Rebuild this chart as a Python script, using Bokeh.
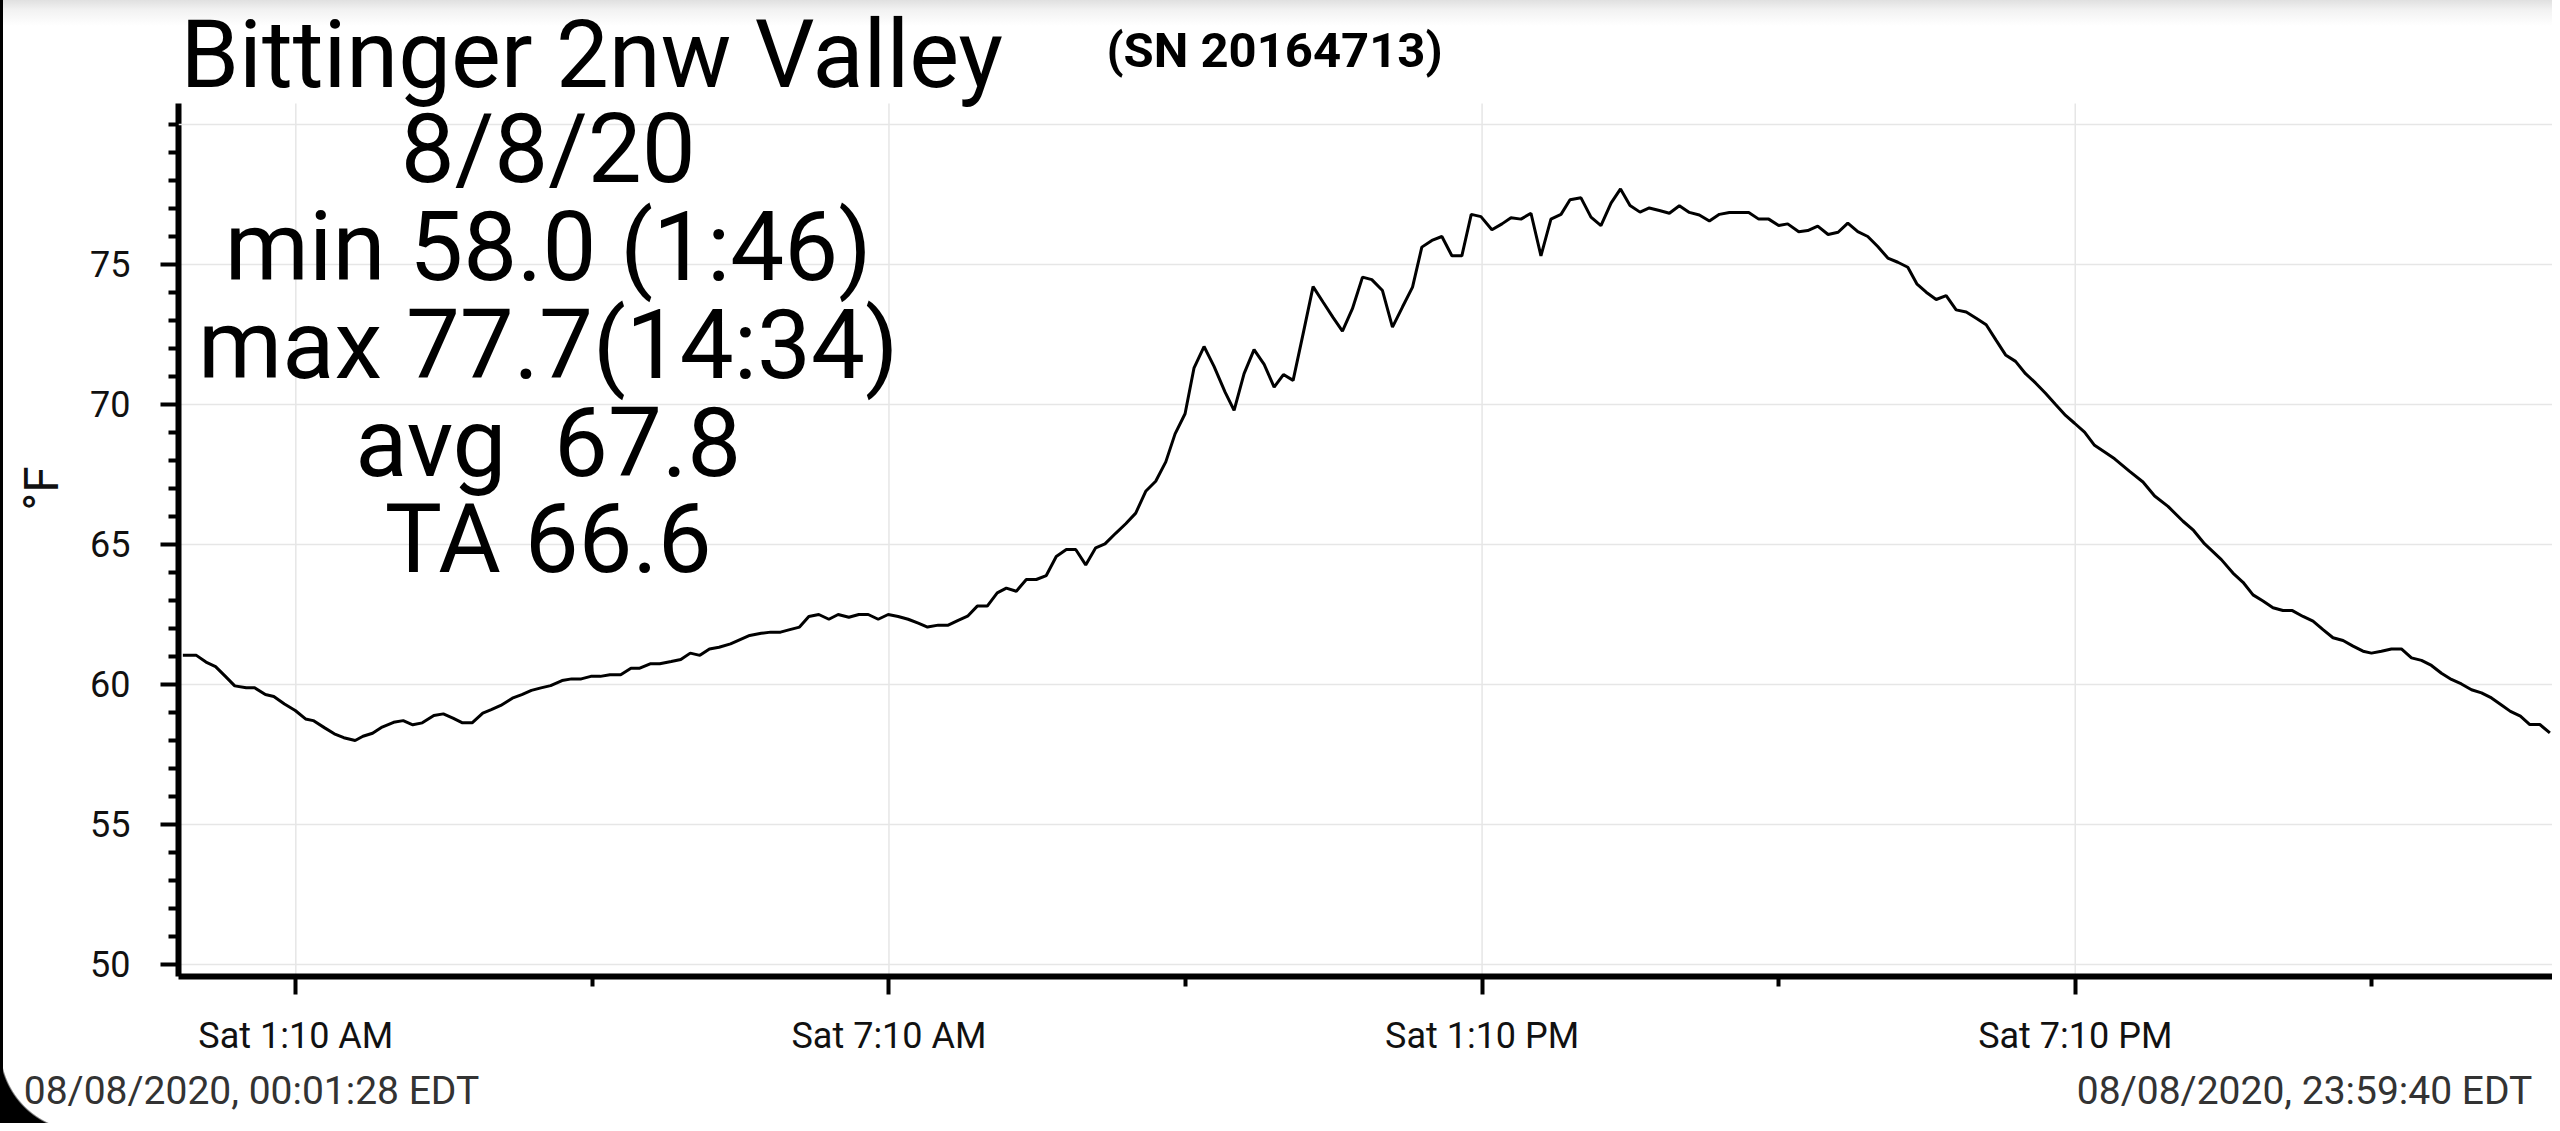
from bokeh.plotting import figure
from bokeh.models import FixedTicker, Label, Span, Range1d, LinearAxis
from bokeh.embed import file_html
from bokeh.resources import INLINE

# ---- data (hours after midnight, temperature °F) ----
hours = [0.024, 0.161, 0.258, 0.355, 0.452, 0.549, 0.665, 0.750, 0.859, 0.944,
         1.052, 1.161, 1.265, 1.343, 1.459, 1.556, 1.652, 1.767, 1.846, 1.943,
         2.040, 2.156, 2.253, 2.350, 2.446, 2.563, 2.659, 2.756, 2.853, 2.950,
         3.058, 3.144, 3.240, 3.357, 3.453, 3.550, 3.647, 3.744, 3.860, 3.957,
         4.054, 4.151, 4.247, 4.344, 4.453, 4.557, 4.646, 4.751, 4.848, 4.964,
         5.061, 5.157, 5.254, 5.351, 5.448, 5.564, 5.661, 5.758, 5.874, 5.970,
         6.070, 6.154, 6.262, 6.356, 6.457, 6.559, 6.653, 6.761, 6.862, 6.957,
         7.058, 7.159, 7.260, 7.361, 7.463, 7.557, 7.665, 7.766, 7.867, 7.962,
         8.060, 8.161, 8.262, 8.354, 8.455, 8.556, 8.657, 8.758, 8.859, 8.961,
         9.056, 9.157, 9.258, 9.352, 9.460, 9.562, 9.663, 9.764, 9.865, 9.967,
         10.061, 10.162, 10.253, 10.354, 10.455, 10.567, 10.658, 10.759, 10.860, 10.962,
         11.063, 11.157, 11.255, 11.356, 11.457, 11.559, 11.660, 11.754, 11.855, 11.957,
         12.051, 12.159, 12.260, 12.361, 12.463, 12.557, 12.659, 12.760, 12.861, 12.962,
         13.057, 13.155, 13.266, 13.368, 13.459, 13.560, 13.661, 13.762, 13.863, 13.965,
         14.056, 14.167, 14.268, 14.369, 14.471, 14.567, 14.663, 14.764, 14.858, 14.960,
         15.061, 15.162, 15.263, 15.364, 15.466, 15.567, 15.668, 15.769, 15.864, 15.965,
         16.066, 16.167, 16.258, 16.370, 16.461, 16.562, 16.667, 16.768, 16.866, 16.967,
         17.068, 17.169, 17.271, 17.372, 17.473, 17.564, 17.659, 17.760, 17.861, 17.962,
         18.064, 18.165, 18.266, 18.367, 18.462, 18.563, 18.664, 18.765, 18.866, 18.968,
         19.069, 19.160, 19.261, 19.362, 19.464, 19.565, 19.717, 19.852, 19.970, 20.105,
         20.257, 20.364, 20.476, 20.645, 20.762, 20.864, 20.965, 21.066, 21.167, 21.268,
         21.363, 21.471, 21.572, 21.673, 21.774, 21.876, 21.977, 22.078, 22.163, 22.264,
         22.365, 22.466, 22.568, 22.669, 22.770, 22.871, 22.972, 23.073, 23.175, 23.276,
         23.377, 23.478, 23.569, 23.670, 23.765, 23.866, 23.968]

temps = [61.04, 61.04, 60.80, 60.64, 60.30, 59.95, 59.88, 59.88, 59.64, 59.57,
         59.30, 59.07, 58.77, 58.71, 58.45, 58.24, 58.10, 58.00, 58.15, 58.26,
         58.48, 58.65, 58.71, 58.56, 58.63, 58.89, 58.95, 58.80, 58.63, 58.63,
         58.98, 59.10, 59.25, 59.51, 59.64, 59.79, 59.88, 59.96, 60.14, 60.20,
         60.20, 60.29, 60.29, 60.35, 60.35, 60.58, 60.58, 60.74, 60.74, 60.82,
         60.89, 61.12, 61.04, 61.27, 61.33, 61.45, 61.60, 61.75, 61.83, 61.87,
         61.87, 61.95, 62.05, 62.43, 62.50, 62.33, 62.50, 62.40, 62.50, 62.50,
         62.33, 62.50, 62.43, 62.33, 62.19, 62.05, 62.12, 62.12, 62.29, 62.44,
         62.80, 62.80, 63.27, 63.44, 63.33, 63.75, 63.75, 63.89, 64.57, 64.82,
         64.82, 64.27, 64.88, 65.02, 65.40, 65.74, 66.12, 66.90, 67.26, 67.95,
         68.95, 69.67, 71.31, 72.07, 71.36, 70.44, 69.79, 71.10, 71.96, 71.43,
         70.62, 71.07, 70.86, 72.52, 74.21, 73.65, 73.10, 72.62, 73.42, 74.55,
         74.46, 74.07, 72.76, 73.48, 74.19, 75.62, 75.86, 76.00, 75.31, 75.31,
         76.79, 76.71, 76.24, 76.45, 76.67, 76.62, 76.83, 75.31, 76.62, 76.79,
         77.31, 77.38, 76.69, 76.39, 77.19, 77.70, 77.11, 76.87, 77.02, 76.93,
         76.83, 77.10, 76.86, 76.77, 76.55, 76.79, 76.86, 76.86, 76.86, 76.62,
         76.62, 76.39, 76.45, 76.17, 76.21, 76.37, 76.07, 76.15, 76.48, 76.17,
         76.00, 75.64, 75.23, 75.08, 74.90, 74.31, 74.01, 73.75, 73.89, 73.38,
         73.30, 73.08, 72.85, 72.29, 71.77, 71.54, 71.10, 70.77, 70.40, 70.00,
         69.61, 69.33, 69.01, 68.54, 68.30, 68.06, 67.61, 67.23, 66.73, 66.36,
         65.83, 65.50, 65.02, 64.46, 63.98, 63.65, 63.20, 62.98, 62.74, 62.64,
         62.64, 62.43, 62.26, 61.96, 61.67, 61.57, 61.37, 61.19, 61.12, 61.19,
         61.27, 61.27, 60.95, 60.86, 60.68, 60.40, 60.18, 60.02, 59.81, 59.70,
         59.52, 59.27, 59.04, 58.87, 58.57, 58.57, 58.27]

x_tick_minutes = [70, 430, 790, 1150]
x_tick_labels = ["Sat 1:10 AM", "Sat 7:10 AM", "Sat 1:10 PM", "Sat 7:10 PM"]
x_minor_minutes = [250, 610, 970, 1330]
y_ticks = [50, 55, 60, 65, 70, 75]
y_minor = [v for v in range(50, 81) if v % 5 != 0] + [80]
y_grid_top = 80

title_text = "Bittinger 2nw Valley"
serial_text = "(SN 20164713)"
stats_lines = ["8/8/20", "min 58.0 (1:46)", "max 77.7(14:34)", "avg \u00a067.8", "TA 66.6"]
stats_y = [79.12, 75.62, 72.12, 68.625, 65.18]
footer_texts = ["08/08/2020, 00:01:28 EDT", "08/08/2020, 23:59:40 EDT"]
footer_pos = [43.1, 1289.2]

FONT = "Roboto"
Y_LO, Y_AXIS_TOP, Y_HI = 49.571, 80.75, 84.428

x_min = [h * 60 for h in hours]

p = figure(frame_width=2374, frame_height=976, title=None,
           min_border_left=178, min_border_right=0,
           min_border_top=0, min_border_bottom=147,
           x_range=Range1d(-1.2, 1439.67), y_range=Range1d(Y_LO, Y_HI),
           output_backend="svg", toolbar_location=None)
p.outline_line_color = None
p.background_fill_color = None
p.border_fill_color = None
# screenshot frame: faint status-bar shade on top, dark bezel on the left edge and rounded corner
p.styles = {
    "background-color": "#ffffff",
    "background-image": ("linear-gradient(to right, #000000 0px, #000000 3px, rgba(0,0,0,0) 3px), "
                         "radial-gradient(circle at 100% 0%, rgba(0,0,0,0) 82px, #000000 84px), "
                         "linear-gradient(to bottom, #e0e0e0 0px, #f2f2f2 10px, #ffffff 26px)"),
    "background-size": "100% 100%, 83px 83px, 100% 100%",
    "background-position": "0px 0px, 0px 1048px, 0px 0px",
    "background-repeat": "no-repeat",
}

# grid
p.xgrid.visible = False
p.ygrid.grid_line_color = "#e6e6e6"
p.ygrid.grid_line_width = 1.5
p.add_layout(Span(location=y_grid_top, dimension="width", line_color="#e6e6e6", line_width=1.5))
p.segment(x0=x_tick_minutes, y0=[Y_LO] * len(x_tick_minutes),
          x1=x_tick_minutes, y1=[Y_AXIS_TOP] * len(x_tick_minutes),
          line_color="#e6e6e6", line_width=1.5)

# temperature line
p.line(x_min, temps, line_color="black", line_width=3)

# axes
xa = p.xaxis[0]
xa.ticker = FixedTicker(ticks=x_tick_minutes, minor_ticks=x_minor_minutes)
xa.major_label_overrides = {t: l for t, l in zip(x_tick_minutes, x_tick_labels)}
ya = p.yaxis[0]
ya.ticker = FixedTicker(ticks=y_ticks, minor_ticks=y_minor)
ya.bounds = (Y_LO, Y_AXIS_TOP)
ya.axis_label = "°F"

for ax in (xa, ya):
    ax.axis_line_width = 6
    ax.axis_line_color = "black"
    ax.major_tick_line_color = "black"
    ax.minor_tick_line_color = "black"
    ax.major_tick_line_width = 4
    ax.minor_tick_line_width = 4
    ax.major_tick_in = 0
    ax.minor_tick_in = 0
    ax.major_tick_out = 18
    ax.minor_tick_out = 10
    ax.major_label_text_font = FONT
    ax.major_label_text_font_size = "36px"
    ax.major_label_text_color = "#111111"
    ax.axis_label_text_font = FONT
    ax.axis_label_text_font_style = "normal"
    ax.axis_label_text_font_size = "48px"
    ax.axis_label_text_color = "#111111"
xa.major_label_standoff = 20
ya.major_label_standoff = 30
ya.axis_label_standoff = 17

# footer timestamps as an extra (invisible) axis below
fa = LinearAxis(ticker=FixedTicker(ticks=footer_pos, minor_ticks=[]))
fa.major_label_overrides = {t: l for t, l in zip(footer_pos, footer_texts)}
fa.axis_line_color = None
fa.major_tick_line_color = None
fa.minor_tick_line_color = None
fa.major_tick_out = 0
fa.major_tick_in = 0
fa.major_label_standoff = 8
fa.major_label_text_font = FONT
fa.major_label_text_font_size = "39px"
fa.major_label_text_color = "#333333"
p.add_layout(fa, "below")

# header texts
p.add_layout(Label(x=0.0, y=82.485, text=title_text, text_font=FONT,
                   text_font_size="94px", text_color="black",
                   text_align="left", text_baseline="alphabetic"))
p.add_layout(Label(x=562.0, y=82.66, text=serial_text, text_font=FONT,
                   text_font_size="49px", text_font_style="bold", text_color="black",
                   text_align="left", text_baseline="alphabetic"))

# statistics block
for t, yy in zip(stats_lines, stats_y):
    p.add_layout(Label(x=223.2, y=yy, text=t, text_font=FONT,
                       text_font_size="96px", text_color="black",
                       text_align="center", text_baseline="alphabetic"))

open("out.html", "w").write(file_html(p, INLINE))
